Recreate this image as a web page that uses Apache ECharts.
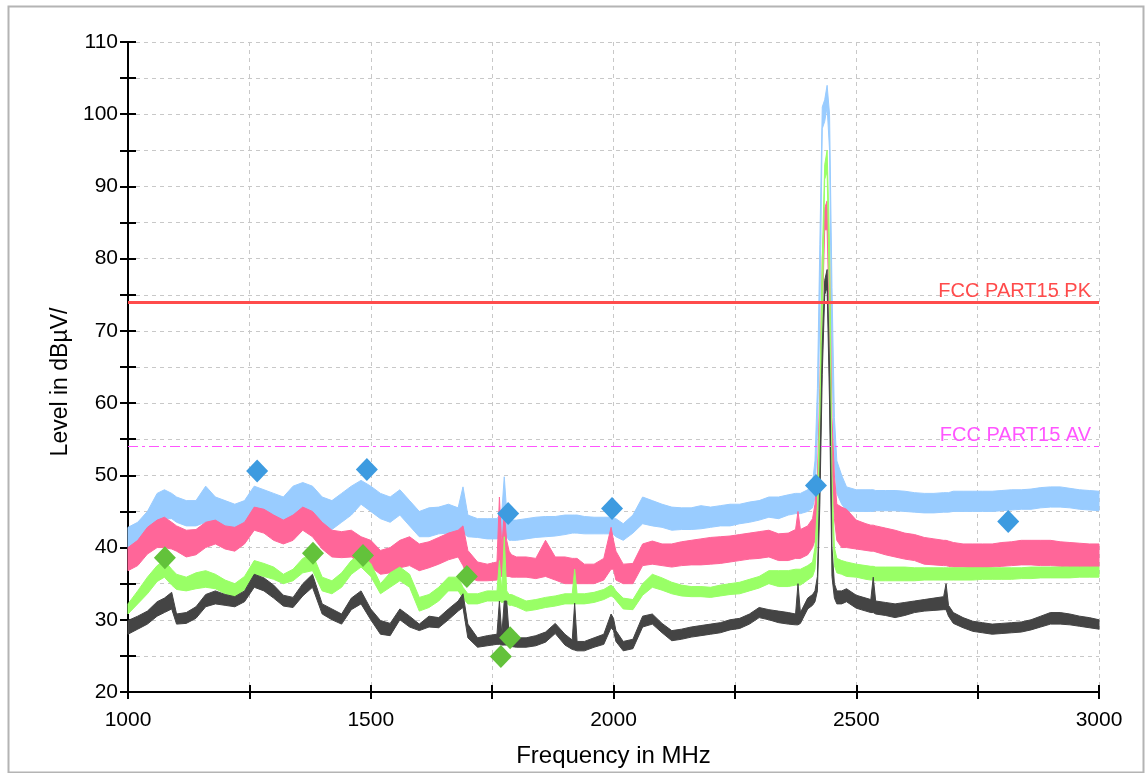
<!DOCTYPE html>
<html>
<head>
<meta charset="utf-8">
<title>FCC PART15 scan</title>
<script src="https://cdn.jsdelivr.net/npm/echarts@6/dist/echarts.min.js"></script>
<style>
  html, body { margin: 0; padding: 0; background: #fff; }
  #chart { width: 1146px; height: 773px; }
</style>
</head>
<body>
<div id="chart"></div>
<script>
// 频率点 (MHz)
const freq = [
  1000, 1020, 1040, 1060, 1075, 1090, 1100, 1120, 1140, 1160,
  1180, 1200, 1220, 1240, 1260, 1280, 1300, 1320, 1340, 1360,
  1380, 1400, 1420, 1440, 1460, 1480, 1500, 1520, 1540, 1560,
  1580, 1600, 1620, 1640, 1660, 1680, 1690, 1700, 1720, 1740,
  1760, 1765, 1770, 1775, 1780, 1785, 1790, 1800, 1820, 1840,
  1860, 1880, 1900, 1915, 1920, 1925, 1940, 1960, 1980, 1995,
  2000, 2005, 2020, 2040, 2060, 2080, 2100, 2120, 2140, 2160,
  2180, 2200, 2220, 2240, 2260, 2280, 2300, 2320, 2340, 2360,
  2375, 2380, 2385, 2400, 2410, 2415, 2420, 2425, 2430, 2435,
  2440, 2445, 2450, 2455, 2460, 2470, 2480, 2500, 2520, 2530,
  2535, 2540, 2560, 2580, 2600, 2620, 2640, 2660, 2680, 2685,
  2690, 2700, 2720, 2740, 2760, 2780, 2800, 2820, 2840, 2860,
  2880, 2900, 2920, 2940, 2960, 2980, 3000
]

// 浅蓝 上沿/下沿
const blueHi = [
  42.8, 43.5, 45, 47.5, 48, 47.5, 47, 46.5, 46.5, 48.5,
  47, 46.5, 46, 46.5, 48.5, 48, 47.5, 47, 48.5, 49,
  48.5, 47, 46.5, 47.5, 48.5, 49.3, 48.5, 47.5, 47, 48,
  46.5, 45, 45.5, 45.6, 46, 45.5, 48.4, 44.5, 44, 44,
  44, 44.5, 45, 49.8, 45, 44, 43.8, 43.8, 44, 44.2,
  44.3, 44.3, 44.5, 44.5, 44.5, 44.5, 44.3, 44.2, 44.2, 44.2,
  44, 44, 43.3, 44.5, 47, 46.5, 46, 45.6, 45.5, 45.5,
  45.8, 45.6, 45.8, 46, 46, 46.3, 46.5, 47, 47, 47.3,
  47.5, 47.5, 47.5, 48, 49, 52, 62, 82, 101, 102,
  104, 100, 76, 58, 52, 50, 48.4, 48, 48, 48,
  48, 47.9, 47.9, 47.9, 47.8, 47.6, 47.5, 47.5, 47.6, 47.6,
  47.6, 47.8, 47.8, 47.8, 47.8, 47.8, 47.9, 48, 48, 48.1,
  48.3, 48.4, 48.4, 48.2, 48, 47.9, 47.8
]
const blueLo = [
  40, 40.5, 41.5, 43.5, 44, 44, 43.5, 43, 43, 43.5,
  43, 42.5, 42.5, 43, 44.5, 44.5, 44, 43.5, 44.5, 44.5,
  44.5, 42.8, 42.5, 43.5, 44.5, 46, 45, 44, 43.5, 44.5,
  43, 41.5, 41.5, 41.9, 42, 42, 42, 41.5, 41.4, 41.2,
  41.2, 41.5, 41.5, 41.5, 41.5, 41, 41, 41, 41.2, 41.4,
  41.5, 41.6, 41.8, 42, 42, 42, 41.9, 41.9, 41.9, 41.9,
  41.8, 41.5, 41, 42, 43.3, 43, 42.8, 42.4, 42.5, 42.5,
  42.6, 42.8, 43, 43, 43.3, 43.5, 43.8, 44.2, 44, 44.5,
  44.7, 44.7, 44.7, 45, 45.5, 47, 56, 72, 98, 99,
  101, 95, 66, 52, 47.5, 46, 45.1, 45, 45, 45,
  45, 45.1, 45.1, 45.1, 45, 44.9, 44.8, 44.8, 44.9, 44.9,
  44.9, 45, 45, 45, 45, 45, 45.1, 45.2, 45.3, 45.3,
  45.5, 45.6, 45.6, 45.5, 45.3, 45.2, 45.1
]

// 粉红 上沿/下沿
const pinkHi = [
  40, 41, 42.8, 43.8, 44.2, 43.5, 43, 42.4, 42.5, 43.5,
  43.8, 43, 42.8, 43.5, 45.6, 45.3, 44.5, 43.8, 44.5, 45.6,
  45, 43.5, 42.4, 42.2, 42.4, 41.5, 41, 39.6, 40, 41,
  41.5, 40.5, 40.8, 41.4, 42, 42.4, 43, 39.6, 38, 37.7,
  38, 47, 40, 45, 41, 39.5, 39, 38.7, 38.7, 38.5,
  41, 38.7, 38.7, 38.5, 38.5, 38.5, 37.7, 37.7, 38.5, 42.8,
  41, 39.5, 37.7, 37.8, 40.5, 40.9, 40.5, 40.5, 40.8, 41,
  41.2, 41.4, 41.5, 41.6, 41.8, 42, 42.2, 42.4, 41.9, 42,
  42.5, 45, 42.5, 43, 44, 46, 50, 62, 80, 87,
  88, 80, 58, 50, 46, 45.6, 45.3, 43.8, 43.3, 43.1,
  43.1, 43, 42.7, 42.4, 42, 41.8, 41.4, 41.2, 41, 41,
  40.9, 40.7, 40.5, 40.5, 40.5, 40.5, 40.7, 40.8, 41, 41,
  41, 41, 40.8, 40.7, 40.6, 40.5, 40.5
]
const pinkLo = [
  36.8, 37.5, 39.1, 40, 40, 39.8, 39.5, 38.7, 39, 40,
  40.5, 39.8, 39.5, 40.5, 42.4, 42, 41, 40.5, 41, 42.4,
  41.5, 39.8, 38.7, 38.6, 38.7, 37.8, 37.3, 36.3, 36.5, 37.2,
  37.5, 36.8, 37.2, 37.7, 38.3, 38.7, 37.5, 35.9, 35.4, 35.4,
  35.5, 36, 36, 36, 36, 36, 35.9, 35.9, 35.9, 35.7,
  36, 35.5, 35, 35, 35, 35, 35, 35, 35.5, 37,
  37, 35.5, 35, 35, 37.5, 37.7, 37.5, 37.3, 37.5, 37.6,
  37.6, 37.7, 37.8, 38, 38.2, 38.4, 38.5, 38.7, 38.2, 38.2,
  38.5, 38.5, 38.5, 39, 40, 41, 44, 55, 72, 84,
  84, 70, 50, 44, 41, 40, 40, 39.8, 39.6, 39.5,
  39.5, 39.4, 39, 38.7, 38.4, 38.2, 37.7, 37.6, 37.5, 37.5,
  37.4, 37.3, 37.3, 37.2, 37.2, 37.3, 37.4, 37.5, 37.6, 37.6,
  37.5, 37.5, 37.4, 37.3, 37.3, 37.3, 37.3
]

// 浅绿 上沿/下沿
const greenHi = [
  32.2, 34, 35.9, 37.5, 38.2, 37, 36.3, 35.9, 36.5, 36.8,
  36.3, 35.5, 35, 36, 38.2, 37.8, 37.3, 36.3, 37, 38.5,
  39.1, 35.9, 35.4, 36.5, 38.2, 39.1, 37.8, 35, 36.5, 37.3,
  36.3, 33.1, 33.5, 34.5, 35.9, 35.9, 34.5, 33.6, 33.6, 34,
  34, 38.2, 34, 41.5, 34, 33.5, 33.5, 33.2, 32.6, 32.8,
  33.1, 33.3, 33.6, 33.6, 37, 33.6, 33.6, 33.8, 34.2, 34.8,
  34.5, 34, 33, 32.8, 35, 36.3, 35.8, 35.2, 34.8, 34.6,
  34.6, 34.5, 34.8, 35, 35.2, 35.6, 36, 36.8, 36.8, 36.8,
  37, 37, 37, 37.5, 38, 40, 46, 60, 80, 93,
  95, 82, 50, 40, 38.5, 38.2, 38, 37.7, 37.5, 37.4,
  37.4, 37.3, 37.3, 37.3, 37.3, 37.2, 37.2, 37.2, 37.2, 37.2,
  37.2, 37.2, 37.2, 37.2, 37.2, 37.2, 37.2, 37.2, 37.2, 37.3,
  37.3, 37.3, 37.3, 37.3, 37.3, 37.3, 37.3
]
const greenLo = [
  30.8, 32.2, 33.6, 35.3, 35.9, 34.8, 34.2, 34, 34.3, 34.5,
  34.3, 33.6, 33.1, 34.2, 36.3, 36, 35.6, 35, 35.4, 36.5,
  36.8, 34, 33.6, 34.5, 36.3, 37.3, 36, 33.6, 34.5, 35.4,
  34.5, 31.2, 31.7, 32.6, 34, 34, 33, 32.2, 32.2, 32.6,
  32.6, 32.6, 32.4, 32.5, 32.3, 32, 32, 31.8, 31.2, 31.4,
  31.7, 31.9, 32.2, 32.2, 32.2, 32.2, 32.2, 32.4, 32.8, 33.3,
  33.1, 32.7, 31.5, 31.4, 33.4, 34.5, 34.1, 33.6, 33.3, 33.2,
  33.2, 33.1, 33.3, 33.5, 33.6, 34, 34.4, 35, 34.6, 34.6,
  34.8, 34.8, 34.8, 35.5, 36, 37, 42, 54, 72, 91,
  92, 74, 45, 37.5, 36.5, 36.3, 36, 35.9, 35.6, 35.5,
  35.5, 35.4, 35.4, 35.4, 35.4, 35.4, 35.5, 35.5, 35.5, 35.5,
  35.5, 35.5, 35.5, 35.5, 35.6, 35.6, 35.6, 35.6, 35.7, 35.7,
  35.8, 35.8, 35.8, 35.8, 35.9, 35.9, 35.9
]

// 深灰 上沿/下沿
const blackHi = [
  29.9, 30.5, 31.2, 32.5, 33, 33.8, 30.8, 31, 31.8, 33.5,
  34, 33.5, 33.2, 34, 36.3, 35.8, 34.8, 33.4, 33.1, 35,
  36.3, 32.2, 31.5, 30.8, 33, 34, 31.5, 29.9, 29.5, 31.5,
  30.5, 29.4, 30.5, 30.3, 31.5, 32.6, 33.6, 29.4, 27.5, 27.8,
  28, 32.6, 28, 32.6, 32.6, 28, 27.8, 27.5, 27.5, 27.8,
  28.3, 29.5, 28, 27.2, 32.3, 27, 27, 27.5, 28, 30.8,
  30.2, 28.5, 27, 27.3, 30.5, 30.8, 29.5, 28.5, 28.7, 29,
  29.2, 29.4, 29.6, 30, 30.2, 30.8, 31.7, 31.4, 31.2, 31,
  30.8, 35, 31, 33, 33.5, 34, 36, 50, 68, 77,
  78.5, 65, 40, 35, 34, 34, 34.3, 33.4, 33, 32.8,
  35.9, 32.6, 32.4, 32.2, 32.4, 32.6, 32.8, 33, 33.2, 35,
  32, 31, 30.3, 29.8, 29.6, 29.4, 29.5, 29.6, 29.7, 30,
  30.5, 31, 31, 30.8, 30.5, 30.3, 30
]
const blackLo = [
  28, 28.7, 29.4, 30.5, 31, 31.5, 29.4, 29.5, 30.2, 31.8,
  32.2, 32, 31.8, 32.5, 34.5, 34, 33, 31.9, 31.7, 33.3,
  34.5, 30.8, 30, 29.4, 31.4, 32.2, 30, 28, 27.8, 30,
  29, 28.5, 29, 28.9, 30, 31.2, 31.7, 27.5, 26.2, 26.4,
  26.6, 26.6, 26.5, 26.5, 26.5, 26.4, 26.3, 26.2, 26.2, 26.4,
  26.9, 28.1, 26.5, 25.9, 25.8, 25.7, 25.7, 26.2, 26.6, 28.9,
  28.5, 27, 25.7, 26, 29, 29.4, 28.2, 27.1, 27.3, 27.6,
  27.8, 28, 28.2, 28.6, 28.8, 29.4, 30.3, 30, 29.6, 29.4,
  29.3, 29.3, 29.5, 31.5, 32, 32.5, 34, 46, 64, 75,
  76, 60, 36, 33, 32.2, 32.2, 32.5, 31.6, 31.2, 31,
  31, 30.8, 30.6, 30.3, 30.6, 31, 31.2, 31.3, 31.4, 31.4,
  30.5, 29.5, 28.9, 28.4, 28.2, 28, 28.1, 28.2, 28.3, 28.6,
  29, 29.4, 29.4, 29.3, 29.1, 28.9, 28.7
]

// 标记点 [MHz, dBµV]
const blueMarkers = [[1266, 50.6], [1492, 50.8], [1783, 44.7], [1997, 45.4], [2417, 48.6], [2813, 43.6]]
const greenMarkers = [[1076, 38.6], [1381, 39.2], [1484, 38.9], [1698, 36], [1787, 27.5], [1768, 24.9]]

// 限值线
const pkLimit = 74
const avLimit = 54

// 刻度标签
const xLabels = [1000, 1500, 2000, 2500, 3000]
const yLabels = [20, 30, 40, 50, 60, 70, 80, 90, 100, 110]

const font = 'Liberation Sans, Arial, sans-serif'

// 噪声带: 上沿连到下沿围成一个多边形, 坐标由 api.coord 换算
function band(name, hi, lo, color) {
  return {
    name: name,
    type: 'custom',
    coordinateSystem: 'cartesian2d',
    silent: true,
    z: 2,
    data: [[freq[0], lo[0]]],
    renderItem: function (params, api) {
      const top = freq.map((f, i) => api.coord([f, hi[i]]))
      const bottom = freq.map((f, i) => api.coord([f, lo[i]])).reverse()
      return {
        type: 'polygon',
        shape: { points: top.concat(bottom) },
        style: { fill: color, stroke: color, lineWidth: 1 }
      }
    }
  }
}

// 限值线 (markLine)
function limit(name, value, color, width, type) {
  return {
    name: name, type: 'line', data: [], silent: true, z: 3,
    markLine: {
      symbol: ['none', 'none'],
      silent: true,
      lineStyle: { color: color, width: width, type: type },
      label: {
        show: true, position: 'insideEndTop', formatter: name,
        color: color, fontFamily: font, fontSize: 20, distance: [8, 1]
      },
      data: [{ yAxis: value }]
    }
  }
}

// 菱形标记
function markers(name, data, color) {
  return {
    name: name, type: 'scatter', data: data, silent: true, z: 10,
    symbol: 'diamond', symbolSize: [22, 23],
    itemStyle: { color: color, opacity: 1 }
  }
}

const axisLine = { show: true, lineStyle: { color: '#000', width: 2 } }
const splitLine = { show: true, lineStyle: { color: '#c8c8c8', type: [4, 4], width: 1 } }

const xBase = { type: 'value', min: 1000, max: 3000, interval: 250, position: 'bottom', axisLine: axisLine }
const yBase = { type: 'value', min: 20, max: 110, interval: 5, position: 'left', axisLine: axisLine }

const option = {
  animation: false,
  backgroundColor: '#fff',
  grid: { left: 128, right: 47, top: 42, bottom: 80 },
  xAxis: [
    Object.assign({}, xBase, {
      name: 'Frequency in MHz', nameLocation: 'middle', nameGap: 52,
      nameTextStyle: { fontFamily: font, fontSize: 24, color: '#000' },
      axisTick: { show: true, inside: false, length: 7, lineStyle: { color: '#000', width: 2 } },
      axisLabel: {
        margin: 18, fontFamily: font, fontSize: 21, color: '#000',
        formatter: v => (xLabels.includes(v) ? String(v) : '')
      },
      splitLine: splitLine
    }),
    Object.assign({}, xBase, {
      axisTick: { show: true, inside: true, length: 7, lineStyle: { color: '#000', width: 2 } },
      axisLabel: { show: false }, splitLine: { show: false }
    })
  ],
  yAxis: [
    Object.assign({}, yBase, {
      name: 'Level in dBµV/', nameLocation: 'middle', nameGap: 50,
      nameTextStyle: { fontFamily: font, fontSize: 23, color: '#000', padding: [0, 30, 0, 0] },
      axisTick: { show: true, inside: false, length: 8, lineStyle: { color: '#000', width: 2 } },
      axisLabel: {
        margin: 10, fontFamily: font, fontSize: 21, color: '#000',
        formatter: v => (yLabels.includes(v) ? String(v) : '')
      },
      splitLine: splitLine
    }),
    Object.assign({}, yBase, {
      axisTick: { show: true, inside: true, length: 8, lineStyle: { color: '#000', width: 2 } },
      axisLabel: { show: false }, splitLine: { show: false }
    })
  ],
  graphic: [
    {
      type: 'rect', left: 6, top: 4, silent: true, z: 100,
      shape: { width: 1135, height: 766 },
      style: { fill: 'none', stroke: '#b4b4b4', lineWidth: 2 }
    }
  ],
  series: [
    band('blue', blueHi, blueLo, '#99ccff'),
    band('pink', pinkHi, pinkLo, '#ff6699'),
    band('green', greenHi, greenLo, '#99ff66'),
    band('black', blackHi, blackLo, '#444444'),
    limit('FCC PART15 AV', avLimit, '#ff55ff', 1.2, [10, 4, 3, 4]),
    limit('FCC PART15 PK', pkLimit, '#ff4b4b', 3, 'solid'),
    markers('blue markers', blueMarkers, '#3d9be0'),
    markers('green markers', greenMarkers, '#63c23b')
  ]
}

const myChart = echarts.init(document.getElementById('chart'), null, { renderer: 'canvas' })
myChart.setOption(option)
</script>
</body>
</html>
